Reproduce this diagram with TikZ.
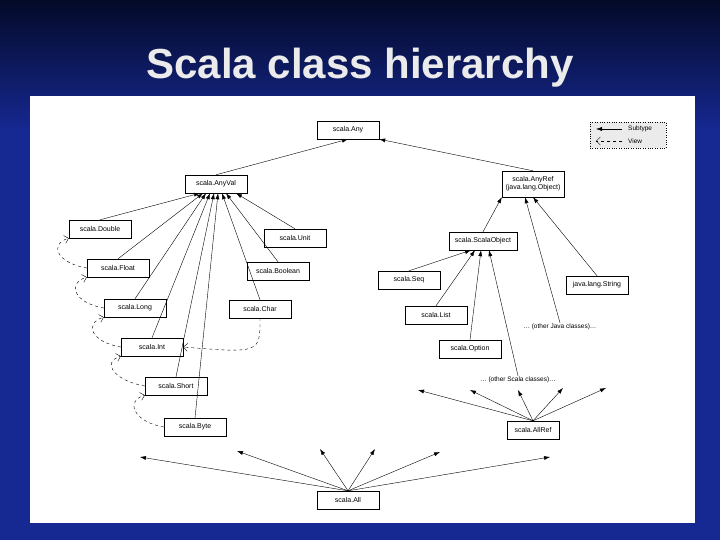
\documentclass[tikz,border=0pt]{standalone}
\usepackage{fontspec}
\setmainfont{Liberation Sans}
\usepackage{tikz}
\usetikzlibrary{arrows.meta,positioning,calc}

\definecolor{slideblue}{RGB}{22,40,145}
\definecolor{slidetop}{RGB}{4,10,40}

\begin{document}
\begin{tikzpicture}
[x=1pt,y=-1pt,
 cls/.style={rectangle,draw=black,fill=white,inner sep=2pt,minimum height=18pt,font=\fontsize{7}{8}\selectfont},
 sub/.style={-{Latex[length=6pt,width=4pt]},thin},
 view/.style={-{Straight Barb[length=4pt]},thin,dashed},
 more/.style={font=\fontsize{6.5}{7}\selectfont,inner sep=1pt}]
\useasboundingbox (0,0) rectangle (720,540);
\shade[top color=slidetop,bottom color=slideblue] (0,0) rectangle (720,130);
\fill[slideblue] (0,130) rectangle (720,540);
\node[text=black!8,font=\bfseries\fontsize{42}{46}\selectfont] (title) at (360,68) {Scala class hierarchy};
\fill[white] (30,96) rectangle (695,523);

% legend
\node[draw,dotted,fill=black!8,minimum width=76pt,minimum height=26pt] (legend) at (628,135) {};
\coordinate (la) at (596,129); \coordinate (lb) at (622,129);
\coordinate (lc) at (596,141); \coordinate (ld) at (622,141);
\draw[sub] (lb) -- (la);
\draw[view] (ld) -- (lc);
\node[more,anchor=west] (lsub) at (627,129) {Subtype};
\node[more,anchor=west] (lview) at (627,141) {View};

% classes
\node[cls,minimum width=62pt] (any) at (348,130) {scala.Any};
\node[cls,minimum width=62pt] (anyval) at (216,184) {scala.AnyVal};
\node[cls,minimum width=62pt,align=center,minimum height=26pt] (anyref) at (533,184) {scala.AnyRef\\(java.lang.Object)};
\node[cls,minimum width=62pt] (double) at (100,229) {scala.Double};
\node[cls,minimum width=62pt] (float) at (118,268) {scala.Float};
\node[cls,minimum width=62pt] (long) at (135,308) {scala.Long};
\node[cls,minimum width=62pt] (int) at (152,347) {scala.Int};
\node[cls,minimum width=62pt] (short) at (176,386) {scala.Short};
\node[cls,minimum width=62pt] (byte) at (195,427) {scala.Byte};
\node[cls,minimum width=62pt] (unit) at (295,238) {scala.Unit};
\node[cls,minimum width=62pt] (boolean) at (278,271) {scala.Boolean};
\node[cls,minimum width=62pt] (char) at (260,309) {scala.Char};
\node[cls,minimum width=68pt] (scalaobj) at (483,241) {scala.ScalaObject};
\node[cls,minimum width=62pt] (seq) at (409,280) {scala.Seq};
\node[cls,minimum width=62pt] (list) at (436,315) {scala.List};
\node[cls,minimum width=62pt] (option) at (470,349) {scala.Option};
\node[cls,minimum width=62pt] (string) at (597,285) {java.lang.String};
\node[cls,minimum width=52pt] (allref) at (533,430) {scala.AllRef};
\node[cls,minimum width=62pt] (all) at (348,500) {scala.All};
\node[more] (javamore) at (560,327) {\dots\ (other Java classes)\dots};
\node[more] (scalamore) at (518,380) {\dots\ (other Scala classes)\dots};

% subtype arrows
\draw[sub] (anyval.north) -- (any.south);
\draw[sub] (anyref.north) -- (any.south east);
\foreach \c/\dx in {double/-16,float/-13,long/-10,int/-6,short/-2,byte/2,char/6,boolean/10,unit/20}
  \draw[sub] (\c.north) -- ($(anyval.south)+(\dx,0)$);
\draw[sub] (scalaobj.north) -- (anyref.south west);
\draw[sub] (javamore.north) -- ($(anyref.south)+(-8,0)$);
\draw[sub] (string.north) -- ($(anyref.south)+(0,0)$);
\foreach \c/\dx in {seq/-12,list/-8,option/-2}
  \draw[sub] (\c.north) -- ($(scalaobj.south)+(\dx,0)$);
\draw[sub] (scalamore.north) -- ($(scalaobj.south)+(6,0)$);

% bottom types
\foreach \x/\y [count=\i] in {418/390,470/390,518/390,563/388,606/388}
  \coordinate (r\i) at (\x,\y);
\foreach \i in {1,...,5} \draw[sub] (allref.north) -- (r\i);
\foreach \x/\y [count=\i] in {140/457,237/451,320/449,375/449,440/452,550/457}
  \coordinate (b\i) at (\x,\y);
\foreach \i in {1,...,6} \draw[sub] (all.north) -- (b\i);

% views
\draw[view] (float.west) .. controls ($(float.west)+(-30,-5)$) and ($(double.west)+(-20,15)$) .. (double.south west);
\draw[view] (long.west) .. controls ($(long.west)+(-30,-5)$) and ($(float.west)+(-20,15)$) .. (float.south west);
\draw[view] (int.west) .. controls ($(int.west)+(-30,-5)$) and ($(long.west)+(-20,15)$) .. (long.south west);
\draw[view] (short.west) .. controls ($(short.west)+(-30,-5)$) and ($(int.west)+(-20,15)$) .. (int.south west);
\draw[view] (byte.west) .. controls ($(byte.west)+(-30,-5)$) and ($(short.west)+(-20,15)$) .. (short.south west);
\draw[view] (char.south) .. controls ($(char.south)+(0,35)$) .. (int.east);
\end{tikzpicture}
\end{document}
